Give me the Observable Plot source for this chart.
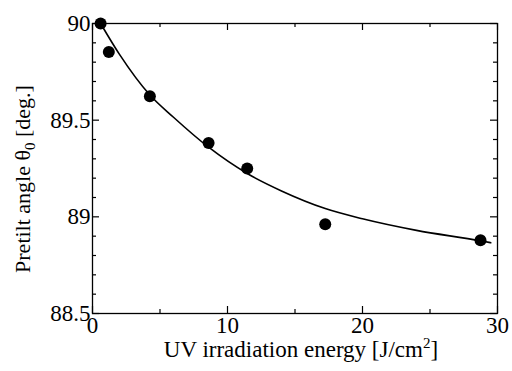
<!DOCTYPE html>
<html><head><meta charset="utf-8">
<script src="https://cdn.jsdelivr.net/npm/d3@7"></script>
<script src="https://cdn.jsdelivr.net/npm/@observablehq/plot@0.6"></script>
<style>body{margin:0;background:#fff}</style>
</head><body><div id="chart"></div>
<script>
// Measured points
const energy = [0.6, 1.21, 4.25, 8.6, 11.46, 17.24, 28.74];
const pretilt = [90.0, 89.853, 89.624, 89.382, 89.25, 88.962, 88.879];
// Fitted curve
const fitEnergy = [0.6, 2, 4.25, 6, 8.6, 11.46, 14, 17.24, 20, 24, 28.74, 29.5];
const fitPretilt = [90.0, 89.84, 89.63, 89.515, 89.36, 89.224, 89.134, 89.043, 88.99, 88.93, 88.876, 88.866];
// Ticks
const xMajor = [0, 10, 20, 30];
const xMinor = [5, 15, 25];
const yMajor = [88.5, 89, 89.5, 90];
const yMinor = [88.6, 88.7, 88.8, 88.9, 89.1, 89.2, 89.3, 89.4, 89.6, 89.7, 89.8, 89.9];
const xTitle = "UV irradiation energy [J/cm";
const yTitle = "Pretilt angle θ";

const W = 512, H = 371, mL = 92, mR = 15, mT = 23, mB = 58;
const pw = W - mL - mR, ph = H - mT - mB;
const font = "Liberation Serif";

const pts = energy.map((e, i) => ({x: e, y: pretilt[i]}));
const fit = fitEnergy.map((e, i) => ({x: e, y: fitPretilt[i]}));
const MAJ = 7, MIN = 4;

const chart = Plot.plot({
  width: W, height: H,
  marginLeft: mL, marginRight: mR, marginTop: mT, marginBottom: mB,
  style: {fontFamily: font, color: "#000", background: "#fff"},
  x: {domain: [0, 30], axis: null},
  y: {domain: [88.5, 90], axis: null},
  marks: [
    Plot.text(xMajor, {x: d => d, frameAnchor: "bottom", lineAnchor: "top", dy: 3,
      text: d => String(d), fontFamily: font, fontSize: 23, fontVariant: "normal", fill: "#000"}),
    Plot.text(yMajor, {y: d => d, frameAnchor: "left", textAnchor: "end", dx: -2,
      text: d => String(d), fontFamily: font, fontSize: 23, fontVariant: "normal", fill: "#000"}),
    // inward ticks, bottom & top
    Plot.ruleX(xMajor, {x: d => d, insetTop: ph - MAJ, stroke: "#000", strokeWidth: 1.2}),
    Plot.ruleX(xMinor, {x: d => d, insetTop: ph - MIN, stroke: "#000", strokeWidth: 1.2}),
    Plot.ruleX(xMajor, {x: d => d, insetBottom: ph - MAJ, stroke: "#000", strokeWidth: 1.2}),
    Plot.ruleX(xMinor, {x: d => d, insetBottom: ph - MIN, stroke: "#000", strokeWidth: 1.2}),
    // inward ticks, left & right
    Plot.ruleY(yMajor, {y: d => d, insetRight: pw - MAJ, stroke: "#000", strokeWidth: 1.2}),
    Plot.ruleY(yMinor, {y: d => d, insetRight: pw - MIN, stroke: "#000", strokeWidth: 1.2}),
    Plot.ruleY(yMajor, {y: d => d, insetLeft: pw - MAJ, stroke: "#000", strokeWidth: 1.2}),
    Plot.ruleY(yMinor, {y: d => d, insetLeft: pw - MIN, stroke: "#000", strokeWidth: 1.2}),
    Plot.frame({stroke: "#000", strokeWidth: 1.3}),
    Plot.line(fit, {x: "x", y: "y", curve: "monotone-x", stroke: "#000", strokeWidth: 1.6}),
    Plot.dot(pts, {x: "x", y: "y", r: 6, fill: "#000", stroke: "none", clip: false})
  ]
});

const svg = d3.select(chart);
svg.attr("overflow", "visible");
svg.selectAll("text, g")
  .attr("font-variant", "normal")
  .style("font-variant-numeric", "normal");

const xt = svg.append("text")
  .attr("x", 301).attr("y", 357)
  .attr("text-anchor", "middle")
  .attr("font-family", font).attr("font-size", 23).attr("fill", "#000");
xt.append("tspan").text(xTitle);
xt.append("tspan").attr("dy", -9).attr("font-size", 15).text("2");
xt.append("tspan").attr("dy", 9).text("]");

const yt = svg.append("text")
  .attr("transform", "translate(30,179) rotate(-90)")
  .attr("text-anchor", "middle")
  .attr("font-family", font).attr("font-size", 22).attr("fill", "#000");
yt.append("tspan").text(yTitle);
yt.append("tspan").attr("dy", 5).attr("font-size", 15).text("0");
yt.append("tspan").attr("dy", -5).text(" [deg.]");

document.getElementById("chart").appendChild(chart);
</script>
</body></html>
